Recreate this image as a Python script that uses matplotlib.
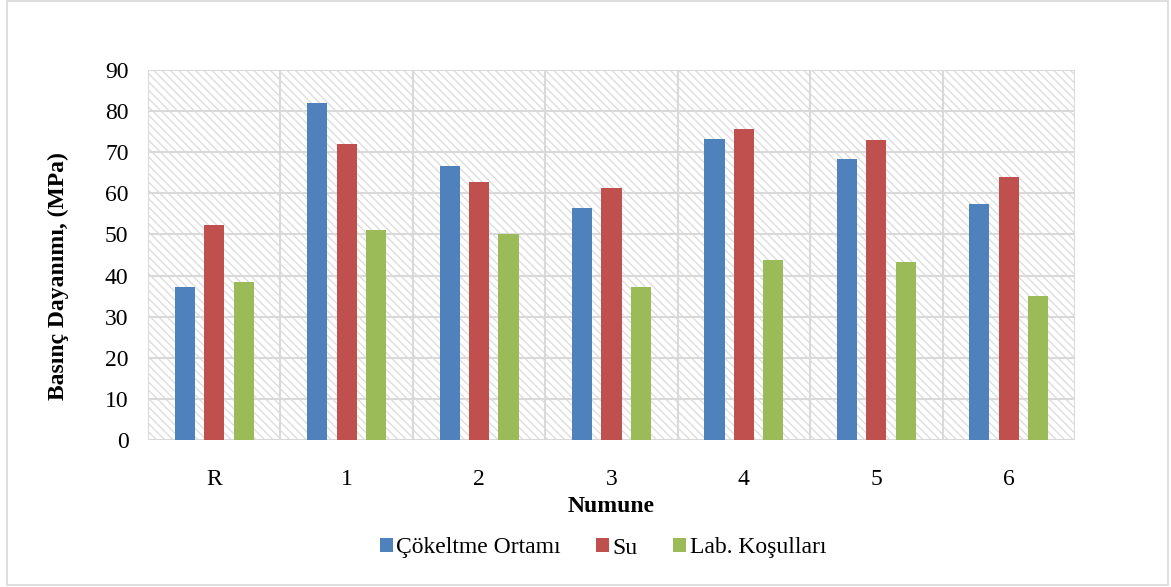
import matplotlib
matplotlib.use("Agg")
import matplotlib.pyplot as plt
from matplotlib.patches import Rectangle
import numpy as np

categories = ["R", "1", "2", "3", "4", "5", "6"]
cokeltme = [37.3, 81.9, 66.7, 56.5, 73.3, 68.3, 57.5]
su = [52.3, 72.0, 62.7, 61.2, 75.7, 73.0, 64.0]
lab = [38.4, 51.1, 50.0, 37.3, 43.7, 43.4, 35.0]
series_names = ["Çökeltme Ortamı", "Su", "Lab. Koşulları"]
colors = ["#4f81bd", "#c0504d", "#9bbb59"]
yticks = [0, 10, 20, 30, 40, 50, 60, 70, 80, 90]

plt.rcParams['font.family'] = ['Liberation Serif', 'DejaVu Serif']
plt.rcParams['hatch.linewidth'] = 1.0

W, H = 1171, 587
FS = 17
fig = plt.figure(figsize=(W / 100, H / 100), dpi=100)
L, R, T, B = 148, 1075, 70, 440
ax = fig.add_axes([L / W, 1 - B / H, (R - L) / W, (B - T) / H])

# hatched background
bg = Rectangle((0, 0), 1, 1, transform=ax.transAxes, facecolor='white',
               edgecolor='#dedede', linewidth=0, hatch='\\\\\\\\', zorder=0)
ax.add_patch(bg)
ax.set_facecolor('white')

x = np.arange(len(categories))
bw = 0.152
off = 0.222
for i, (vals, c, name) in enumerate(zip([cokeltme, su, lab], colors, series_names)):
    ax.bar(x + (i - 1) * off, vals, width=bw, color=c, label=name, zorder=3)

ax.set_xlim(-0.5, len(categories) - 0.5)
ax.set_ylim(0, 90)
ax.set_yticks(yticks)
ax.set_xticks(x)
ax.set_xticklabels(categories)
ax.tick_params(axis='both', length=0, labelsize=FS, colors='#000000')
ax.tick_params(axis='y', pad=14)
ax.tick_params(axis='x', pad=21)

# gridlines
for yv in yticks:
    ax.axhline(yv, color='#d9d9d9', lw=1.5, zorder=1)
for xv in np.arange(-0.5, len(categories), 1.0):
    ax.axvline(xv, color='#d9d9d9', lw=1.5, zorder=1)
for s in ax.spines.values():
    s.set_visible(False)

fig.text(611 / W, 1 - 506 / H, "Numune", ha='center', va='center',
         fontsize=FS, fontweight='bold')
fig.text(58 / W, 1 - 276 / H, "Basınç Dayanımı, (MPa)", ha='center', va='center',
         rotation=90, fontsize=FS, fontweight='bold')

fig.legend(loc='center', bbox_to_anchor=(603 / W, 1 - 548 / H), ncol=3,
           frameon=False, fontsize=FS, handlelength=0.55, handleheight=0.55,
           handletextpad=0.15, columnspacing=1.5)

border = Rectangle((7 / W, 1 - 585 / H), (1168 - 7) / W, (585 - 1) / H,
                   transform=fig.transFigure, fill=False, edgecolor='#d9d9d9', lw=1.2)
fig.patches.append(border)

fig.savefig("out.png", dpi=100)
